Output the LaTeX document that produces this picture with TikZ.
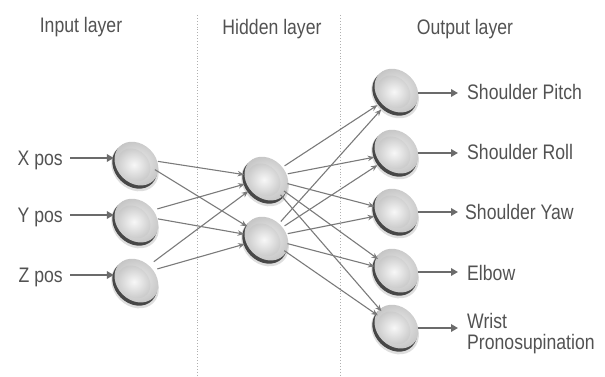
\documentclass[tikz,border=0pt]{standalone}
\usepackage{fontspec}
\setmainfont{Liberation Sans}[FakeStretch=0.84]
\usetikzlibrary{arrows.meta}
\definecolor{txt}{HTML}{525252}
\definecolor{wire}{HTML}{7A7A7A}
\definecolor{arr}{HTML}{6B6B6B}
\definecolor{sep}{HTML}{B0B0B0}

% a shaded, tilted disc (shifted by #4 from its node) with a named round node
\newcommand\neuron[4]{%
  \begin{scope}[shift={(#2,#3+#4)}]
    \fill[black,opacity=0.13] (-1,3.5) ellipse [x radius=26,y radius=21.5,rotate=-45];
    \fill[black!72] (-1.3,2.3) ellipse [x radius=24.5,y radius=20,rotate=-45];
    \shade[inner color=gray!12,outer color=gray!45] (0.4,-0.4) ellipse [x radius=24,y radius=19.5,rotate=-45];
    \shade[inner color=gray!6,outer color=gray!42] (-2,0.8) ellipse [x radius=18,y radius=14.5,rotate=-45];
  \end{scope}
  \node[neuronnode] (#1) at (#2,#3) {};
}

\tikzset{
  x=1pt, y=-1pt,
  neuronnode/.style={circle,minimum size=44pt,inner sep=0pt},
  wirearrow/.style={draw=wire,line width=1.1pt,-{Stealth[length=6.5pt,width=5.5pt]}},
  ioarrow/.style={draw=arr,line width=1.9pt,-{Triangle[length=7pt,width=7.5pt]}},
  lbl/.style={text=txt,font=\fontsize{21}{25}\selectfont,inner sep=0pt},
  separator/.style={draw=sep,dotted,line width=0.9pt},
}

\begin{document}
\begin{tikzpicture}
\useasboundingbox (0,0) rectangle (605,377);

% layer separators
\coordinate (s1t) at (197,15);
\coordinate (s1b) at (197,377);
\coordinate (s2t) at (340,15);
\coordinate (s2b) at (340,377);
\draw[separator] (s1t) -- (s1b);
\draw[separator] (s2t) -- (s2b);

% layer titles
\node[lbl,anchor=base] (tin)  at (81,33)  {Input layer};
\node[lbl,anchor=base] (thid) at (272,35) {Hidden layer};
\node[lbl,anchor=base] (tout) at (465,35) {Output layer};

% neurons
\neuron{i1}{136}{158}{6}
\neuron{i2}{136}{215}{6}
\neuron{i3}{136}{275}{6}
\neuron{h1}{266}{178}{1}
\neuron{h2}{266}{238}{1}
\neuron{o1}{396}{93}{-2}
\neuron{o2}{396}{153}{-1}
\neuron{o3}{396}{212}{-1}
\neuron{o4}{396}{272}{-1}
\neuron{o5}{396}{328}{-1}

% input labels and arrows
\node[lbl,anchor=base east] (xl) at (63,165) {X pos};
\node[lbl,anchor=base east] (yl) at (63,222) {Y pos};
\node[lbl,anchor=base east] (zl) at (63,282) {Z pos};
\draw[ioarrow] (xl.east |- i1) ++(7,0) -- (i1);
\draw[ioarrow] (yl.east |- i2) ++(7,0) -- (i2);
\draw[ioarrow] (zl.east |- i3) ++(7,0) -- (i3);

% input to hidden
\foreach \a in {i1,i2,i3}
  \foreach \b in {h1,h2}
    \draw[wirearrow] (\a) -- (\b);

% hidden to output
\foreach \a in {h1,h2}
  \foreach \b in {o1,o2,o3,o4,o5}
    \draw[wirearrow] (\a) -- (\b);

% output labels and arrows
\node[lbl,anchor=base west] (l1) at (467,100) {Shoulder Pitch};
\node[lbl,anchor=base west] (l2) at (467,160) {Shoulder Roll};
\node[lbl,anchor=base west] (l3) at (465,219) {Shoulder Yaw};
\node[lbl,anchor=base west] (l4) at (467,280) {Elbow};
\node[lbl,anchor=base west] (l5a) at (467,328) {Wrist};
\node[lbl,anchor=base west] (l5b) at (467,349) {Pronosupination};
\draw[ioarrow] (o1) -- ([xshift=-9pt]l1.west |- o1);
\draw[ioarrow] (o2) -- ([xshift=-9pt]l2.west |- o2);
\draw[ioarrow] (o3) -- ([xshift=-7pt]l3.west |- o3);
\draw[ioarrow] (o4) -- ([xshift=-9pt]l4.west |- o4);
\draw[ioarrow] (o5) -- ([xshift=-9pt]l5a.west |- o5);
\end{tikzpicture}
\end{document}
